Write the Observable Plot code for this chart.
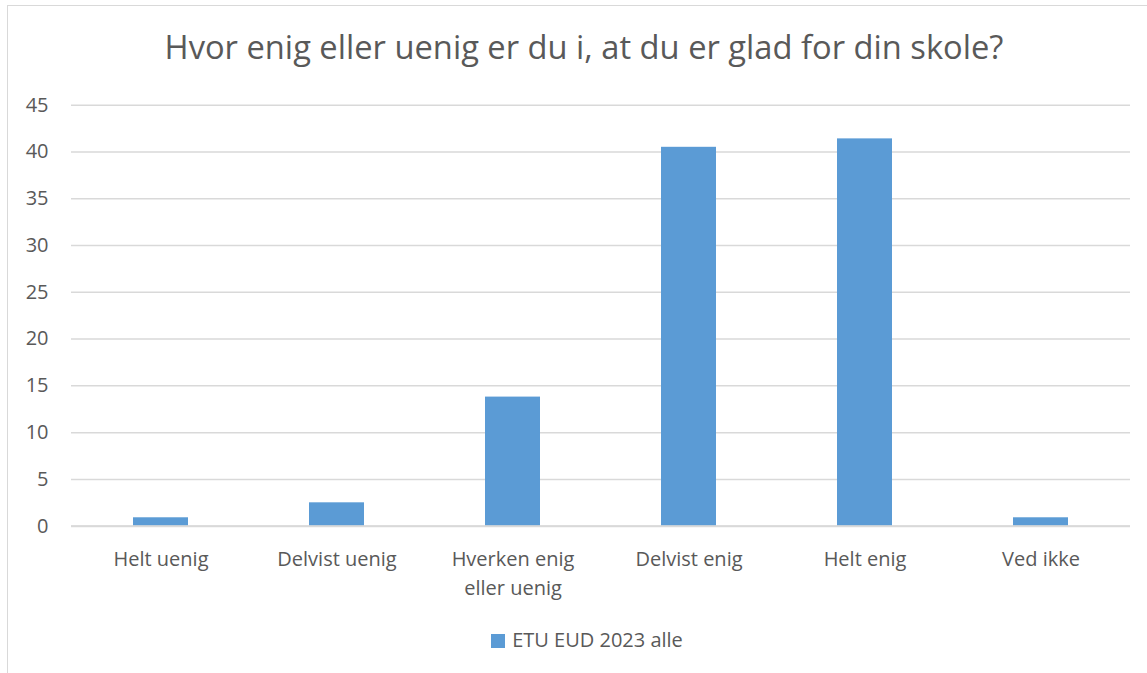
<!DOCTYPE html>
<html>
<head>
<meta charset="utf-8">
<script src="https://cdn.jsdelivr.net/npm/d3@7"></script>
<script src="https://cdn.jsdelivr.net/npm/@observablehq/plot@0.6"></script>
<style>
  html, body { margin: 0; padding: 0; background: #fff; }
  #wrap { position: relative; width: 1147px; height: 673px; overflow: hidden; font-family: "Open Sans", sans-serif; color: #595959; }
  #frame { position: absolute; left: 7px; top: 5px; width: 1200px; height: 700px; border: 1.5px solid #D9D9D9; box-sizing: border-box; }
  #title { position: absolute; left: 0; width: 1168px; top: 25px; text-align: center; font-size: 32.7px; line-height: 44px; white-space: nowrap; }
  #chart { position: absolute; left: 0; top: 85px; }
  #legend { position: absolute; left: 0; width: 1174px; top: 626px; text-align: center; font-size: 20px; line-height: 28px; white-space: nowrap; }
  #legend .sw { display: inline-block; width: 14px; height: 14px; background: #5B9BD5; margin-right: 7px; vertical-align: -1px; }
</style>
</head>
<body>
<div id="wrap">
  <div id="frame"></div>
  <div id="title">Hvor enig eller uenig er du i, at du er glad for din skole?</div>
  <div id="chart"></div>
  <div id="legend"><span class="sw"></span>ETU EUD 2023 alle</div>
</div>
<script>
const categories = ["Helt uenig", "Delvist uenig", "Hverken enig eller uenig", "Delvist enig", "Helt enig", "Ved ikke"];
const tickLabels = ["Helt uenig", "Delvist uenig", "Hverken enig\neller uenig", "Delvist enig", "Helt enig", "Ved ikke"];
const values = [0.9, 2.5, 13.8, 40.5, 41.4, 0.9];
const yTicks = [0, 5, 10, 15, 20, 25, 30, 35, 40, 45];
const seriesName = "ETU EUD 2023 alle";

const data = categories.map((c, i) => ({category: c, value: values[i]}));
const labelOf = new Map(categories.map((c, i) => [c, tickLabels[i]]));

const chart = Plot.plot({
  width: 1147,
  height: 525,
  marginTop: 19.7,
  marginBottom: 84.3,
  marginLeft: 71,
  marginRight: 17,
  style: {fontFamily: "'Open Sans', sans-serif", fontSize: "20px", color: "#595959", background: "transparent", overflow: "visible"},
  x: {domain: categories, paddingInner: 0.686, paddingOuter: 0.343, label: null},
  y: {domain: [0, 45], ticks: yTicks, label: null},
  marks: [
    Plot.gridY(yTicks, {stroke: "#D9D9D9", strokeOpacity: 1, strokeWidth: 1.5}),
    Plot.barY(data, {x: "category", y: "value", fill: "#5B9BD5"}),
    Plot.ruleY([0], {stroke: "#D9D9D9", strokeWidth: 2}),
    Plot.axisY(yTicks, {tickSize: 0, tickPadding: 23, fill: "#595959", fontSize: 20, label: null}),
    Plot.axisX({tickSize: 0, tickPadding: 19, fill: "#595959", fontSize: 20, lineHeight: 1.45, tickFormat: d => labelOf.get(d), label: null})
  ]
});
document.getElementById("chart").appendChild(chart);
</script>
</body>
</html>
